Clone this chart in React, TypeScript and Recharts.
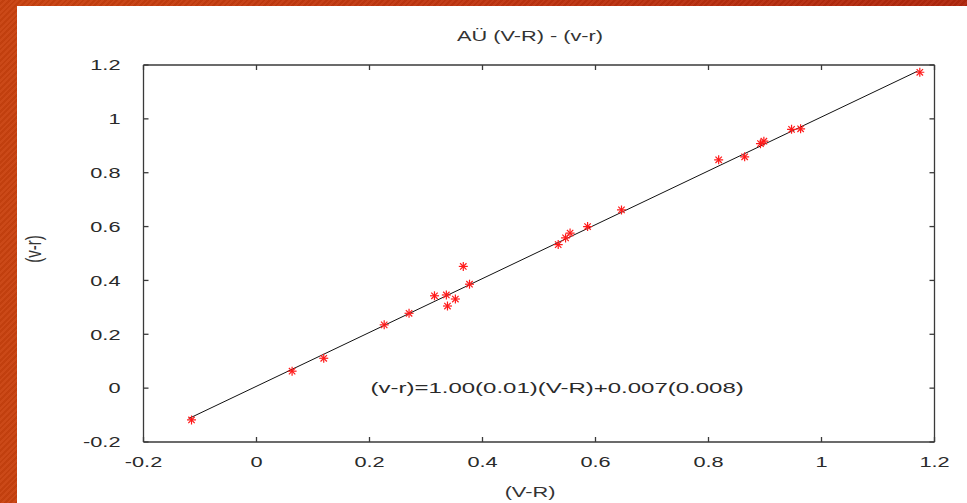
import { ScatterChart, Scatter, XAxis, YAxis, ReferenceDot, ReferenceLine } from "recharts";

// measured (V-R) vs instrumental (v-r)
const bigVR = [-0.115, 0.063, 0.119, 0.226, 0.27, 0.315, 0.336, 0.338, 0.352, 0.366, 0.377, 0.534, 0.547, 0.555, 0.586, 0.646, 0.818, 0.864, 0.892, 0.898, 0.947, 0.963, 1.174];
const smallVR = [-0.118, 0.063, 0.111, 0.235, 0.278, 0.343, 0.346, 0.305, 0.331, 0.452, 0.386, 0.533, 0.558, 0.576, 0.6, 0.662, 0.848, 0.859, 0.908, 0.917, 0.961, 0.963, 1.173];

// fit line end points
const fitX = [-0.12, 1.17];
const fitY = [-0.113, 1.177];

const axisTicks = [-0.2, 0, 0.2, 0.4, 0.6, 0.8, 1, 1.2];
const title = "AÜ (V-R) - (v-r)";
const xLabel = "(V-R)";
const yLabel = "(v-r)";
const fitText = "(v-r)=1.00(0.01)(V-R)+0.007(0.008)";

const points = bigVR.map((x, i) => ({ x, y: smallVR[i] }));
const fit = fitX.map((x, i) => ({ x, y: fitY[i] }));

const FONT = "'Liberation Sans', Arial, sans-serif";
const SX = 1.45;
const AXIS = "#3a3a3a";
const W = 950;
const H = 497;
const M = { top: 59, right: 32.5, bottom: 0, left: 0 };
const PLOT_TOP = M.top;
const PLOT_RIGHT = W - M.right;
const XM = 14; // x tick margin
const YM = 23; // y tick margin
const TL = 5; // tick length

function Star({ cx, cy }: any) {
  const r = 4.5;
  const d = 3.2;
  return (
    <g stroke="#ff1a1a" strokeWidth={1.2}>
      <line x1={cx - r} y1={cy} x2={cx + r} y2={cy} />
      <line x1={cx} y1={cy - r} x2={cx} y2={cy + r} />
      <line x1={cx - d} y1={cy - d} x2={cx + d} y2={cy + d} />
      <line x1={cx - d} y1={cy + d} x2={cx + d} y2={cy - d} />
    </g>
  );
}

function XTick({ x, y, payload }: any) {
  const ay = y - XM;
  return (
    <g>
      <line x1={x} y1={ay} x2={x} y2={ay - TL} stroke={AXIS} strokeWidth={1.3} />
      <line x1={x} y1={PLOT_TOP} x2={x} y2={PLOT_TOP + TL} stroke={AXIS} strokeWidth={1.3} />
      <g transform={`translate(${x},${y}) scale(${SX},1)`}>
        <text textAnchor="middle" dy="0.71em" fontFamily={FONT} fontSize={15} fill="#2a2a2a">
          {String(payload.value)}
        </text>
      </g>
    </g>
  );
}

function YTick({ x, y, payload }: any) {
  const ax = x + YM;
  return (
    <g>
      <line x1={ax} y1={y} x2={ax + TL} y2={y} stroke={AXIS} strokeWidth={1.3} />
      <line x1={PLOT_RIGHT - TL} y1={y} x2={PLOT_RIGHT} y2={y} stroke={AXIS} strokeWidth={1.3} />
      <g transform={`translate(${x},${y}) scale(${SX},1)`}>
        <text textAnchor="end" dy="0.35em" fontFamily={FONT} fontSize={15} fill="#2a2a2a">
          {String(payload.value)}
        </text>
      </g>
    </g>
  );
}

const textStyle: any = {
  position: "absolute",
  fontFamily: FONT,
  fontSize: 15,
  color: "#333",
  whiteSpace: "nowrap",
};

export default function App() {
  return (
    <div
      style={{
        position: "fixed",
        left: 0,
        top: 0,
        width: 967,
        height: 503,
        background:
          "repeating-linear-gradient(135deg, rgba(255,255,255,0.04) 0 2px, rgba(0,0,0,0.04) 2px 4px), linear-gradient(90deg, #c9420f 0%, #bf3410 50%, #b0270d 100%)",
      }}
    >
      <div style={{ position: "absolute", left: 17, top: 6, width: W, height: H, background: "#fff" }}>
        <ScatterChart width={W} height={H} margin={M}>
          <XAxis
            dataKey="x"
            type="number"
            domain={[-0.2, 1.2]}
            ticks={axisTicks}
            allowDataOverflow
            height={61}
            stroke={AXIS}
            strokeWidth={1.3}
            tickLine={false}
            tickSize={0}
            tickMargin={XM}
            tick={<XTick />}
          />
          <YAxis
            dataKey="y"
            type="number"
            domain={[-0.2, 1.2]}
            ticks={axisTicks}
            allowDataOverflow
            width={126.5}
            stroke={AXIS}
            strokeWidth={1.3}
            tickLine={false}
            tickSize={0}
            tickMargin={YM}
            tick={<YTick />}
          />
          <ReferenceLine y={1.2} stroke={AXIS} strokeWidth={1.3} />
          <ReferenceLine x={1.2} stroke={AXIS} strokeWidth={1.3} />
          <Scatter
            data={fit}
            line={{ stroke: "#111", strokeWidth: 1 }}
            shape={() => <g />}
            isAnimationActive={false}
          />
          <Scatter data={points} shape={<Star />} isAnimationActive={false} />
          <ReferenceDot
            x={0.532}
            y={0}
            r={0}
            shape={(p: any) => (
              <g transform={`translate(${p.cx},${p.cy}) scale(1.6,1)`}>
                <text textAnchor="middle" dy="0.35em" fontFamily={FONT} fontSize={15} fill="#2a2a2a">
                  {fitText}
                </text>
              </g>
            )}
          />
        </ScatterChart>
        <div style={{ ...textStyle, left: 513, top: 29, transform: `translate(-50%,-50%) scaleX(${SX})` }}>{title}</div>
        <div style={{ ...textStyle, left: 513, top: 485, transform: `translate(-50%,-50%) scaleX(${SX})` }}>{xLabel}</div>
        <div
          style={{ ...textStyle, left: 16, top: 243, transform: `translate(-50%,-50%) scaleX(${SX}) rotate(-90deg)` }}
        >
          {yLabel}
        </div>
      </div>
    </div>
  );
}
